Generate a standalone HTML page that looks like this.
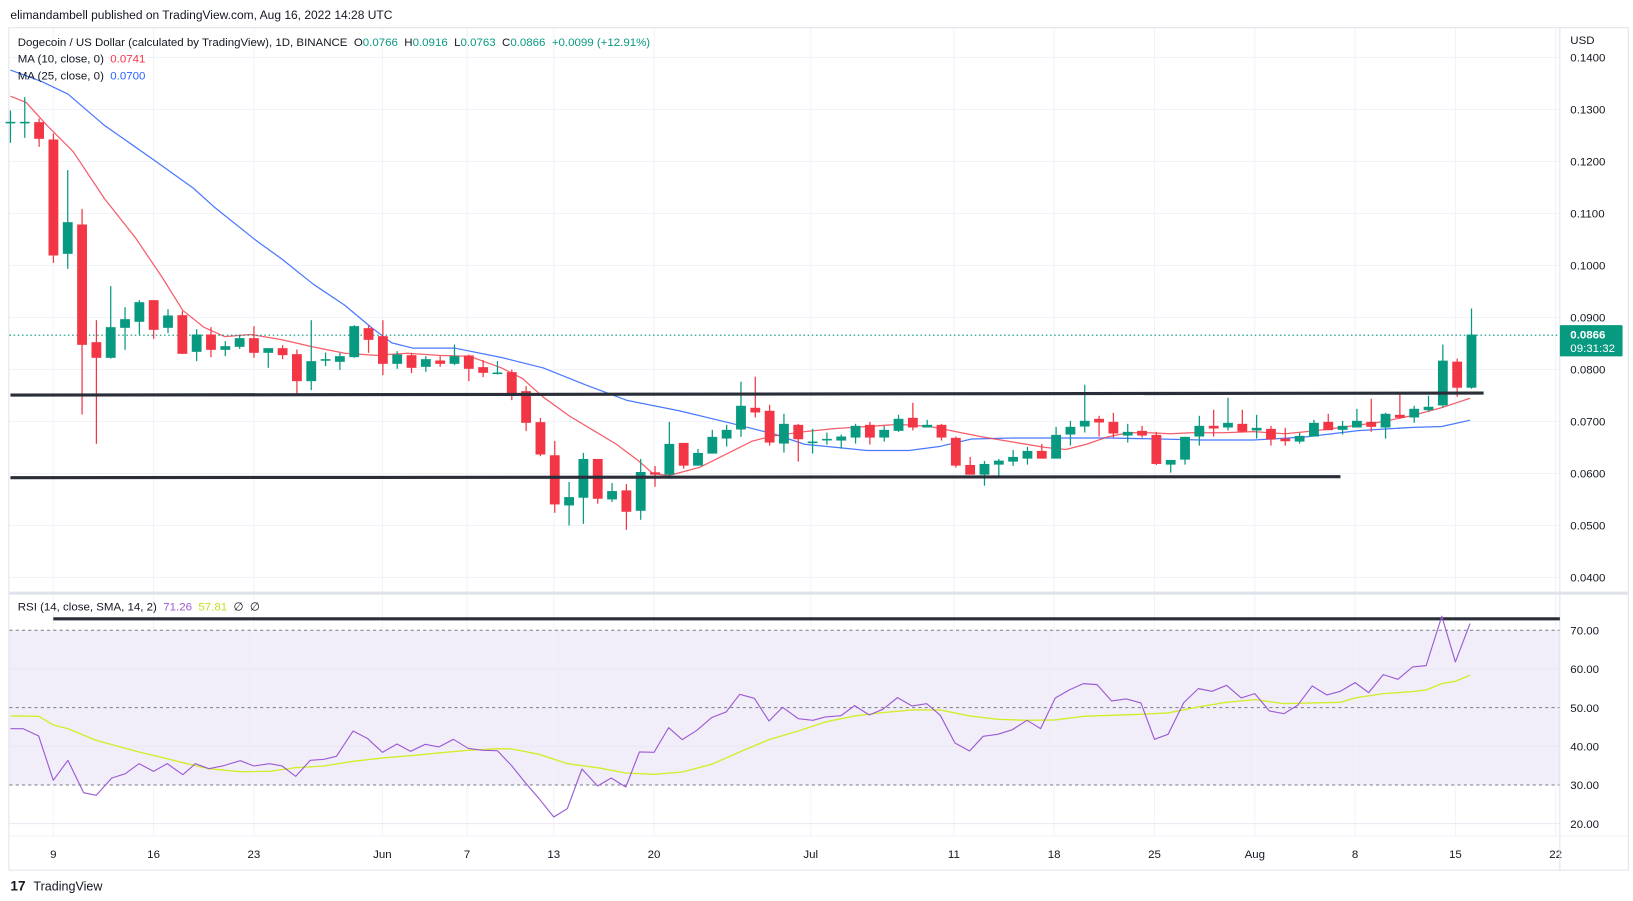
<!DOCTYPE html>
<html><head><meta charset="utf-8"><style>
html,body{margin:0;padding:0;background:#fff;}
svg{display:block;font-family:"Liberation Sans",sans-serif;}
</style></head><body>
<svg id="s" width="1633" height="901" viewBox="0 0 1563 862" preserveAspectRatio="none" xmlns="http://www.w3.org/2000/svg"></svg>
<script>
var S=document.getElementById('s'),out=[];
function py(p){return 55+(0.14-p)*4975;}
function ry(r){return 788-(r-20)*3.7;}
function cx(i){return 10+i*13.71;}
// frame
out.push('<rect x="8.5" y="26.5" width="1550" height="806" fill="#fff" stroke="#e0e3eb"/>');
// RSI band
out.push('<rect x="9" y="'+ry(70)+'" width="1484" height="'+(ry(30)-ry(70))+'" fill="#7e57c2" fill-opacity="0.1"/>');
// vertical grid
var dates=[[51,'9'],[147,'16'],[243,'23'],[366,'Jun'],[447,'7'],[530,'13'],[626,'20'],[776,'Jul'],[913,'11'],[1009,'18'],[1105,'25'],[1201,'Aug'],[1297,'8'],[1393,'15'],[1489,'22']];
dates.forEach(function(d){out.push('<line x1="'+d[0]+'" y1="27" x2="'+d[0]+'" y2="800" stroke="#f0f3fa"/>');
out.push('<text x="'+d[0]+'" y="821" font-size="11" fill="#131722" text-anchor="middle">'+d[1]+'</text>');});
// price grid
for(var k=4;k<=14;k++){var p=k/100,y=py(p);out.push('<line x1="9" y1="'+y+'" x2="1493" y2="'+y+'" stroke="#f0f3fa"/>');
out.push('<text x="1503" y="'+(y+4)+'" font-size="11" fill="#131722">'+p.toFixed(4)+'</text>');}
[60,40,20].forEach(function(r){out.push('<line x1="9" y1="'+ry(r)+'" x2="1493" y2="'+ry(r)+'" stroke="#ebe7f3"/>');});
[70,50,30].forEach(function(r){out.push('<line x1="9" y1="'+ry(r)+'" x2="1493" y2="'+ry(r)+'" stroke="#787b86" stroke-dasharray="3,3"/>');});
[70,60,50,40,30,20].forEach(function(r){out.push('<text x="1503" y="'+(ry(r)+4)+'" font-size="11" fill="#131722">'+r.toFixed(2)+'</text>');});
// separators
out.push('<line x1="1493" y1="27" x2="1493" y2="832" stroke="#e0e3eb"/>');
out.push('<rect x="9" y="566" width="1549" height="3" fill="#e0e3eb"/>');
out.push('<line x1="9" y1="800" x2="1558" y2="800" stroke="#f0f3fa"/>');
// candle data
function f4(z){return 0.13-(z-85)/15600;}
function f5(z){return 0.09-(z-48)/15550;}
var A=[[122,122,88,185],[122,122,48,170],[123,173,112,197],[175,523,157,545],[518,423,267,563],[430,791,383,1000],[783,830,717,1088],[830,738,615,832],[740,714,678,806],[722,663,657,760],[657,746,657,773],[740,703,684,756],[702,818,690,818],[812,760,744,840],[760,806,738,828],[806,795,780,825],[797,771,760,803],[771,815,735,830],[815,801,801,860],[801,822,792,834],[819,900,805,940],[900,840,717,927],[838,834,814,855],[842,825,815,866],[828,735,732,830],[741,776,733,815],[765,848,717,882],[848,820,810,863],[822,860,815,876],[857,834,825,872],[838,848,825,857],[848,825,790,852],[823,863,820,900],[858,875,837,888],[877,874,840,880],[873,938,865,957],[930,1025,915,1050],[1023,1120,1010,1125]];
var B=[[460,607,417,632],[610,585,540,670],[587,471,453,665],[471,590,471,605],[592,567,543,600],[565,629,546,683],[626,510,471,653],[511,518,492,554],[518,426,360,530],[423,491,423,500],[491,453,441,491],[455,405,384,455],[410,384,369,434],[383,312,240,405],[318,332,225,347],[327,422,309,431],[425,366,336,452],[369,412,366,479],[421,419,381,455],[415,411,392,428],[416,404,398,440],[407,372,366,425],[369,407,360,428],[407,384,372,419],[387,351,339,390],[348,377,303,386],[377,369,354,377],[369,407,366,416],[408,491,404,497],[489,518,465,518],[518,486,477,551],[488,476,471,524],[479,465,444,492],[470,447,435,488],[447,470,426,470],[470,399,375,470]];
var C=[[398,375,357,431],[374,357,249,392],[351,362,342,404],[360,395,333,407],[401,390,366,422],[387,401,372,407],[399,486,390,489],[488,474,474,512],[473,405,405,488],[404,372,342,431],[372,380,324,404],[377,363,288,386],[366,389,324,392],[386,378,339,410],[381,413,372,431],[410,418,378,431],[419,402,393,425],[404,363,354,404],[360,385,336,385],[384,372,357,398],[377,357,321,377],[360,375,291,390],[377,336,333,410],[339,348,270,351],[347,321,312,363],[325,315,282,330],[311,177,129,317],[180,258,171,285],[258,99,21,261]];
var D=[];A.forEach(function(c){D.push(c.map(f4));});B.concat(C).forEach(function(c){D.push(c.map(f5));});
// lines behind
function pl(pts,col,w,op){return '<polyline fill="none" stroke="'+col+'" stroke-width="'+w+'" stroke-opacity="'+(op||1)+'" stroke-linejoin="round" points="'+pts.map(function(q){return q[0]+','+q[1];}).join(' ')+'"/>';}
var ma25=[[10,67],[40,78],[65,90],[100,120],[150,155],[185,180],[205,198],[245,230],[270,248],[300,272],[330,292],[355,313],[375,328],[395,333],[435,333],[480,342],[520,352],[560,368],[600,383],[650,393],[700,405],[740,415],[770,425],[800,428],[830,431],[870,431],[900,427],[930,420],[970,419],[1010,419],[1060,419],[1110,420],[1150,421],[1200,421],[1250,418],[1300,412],[1350,409],[1380,408],[1407,402]];
var ma10=[[10,92],[25,98],[45,120],[70,145],[100,190],[130,228],[155,265],[175,297],[195,313],[215,322],[240,320],[270,325],[300,332],[330,338],[360,340],[390,338],[420,340],[450,341],[480,352],[500,362],[520,380],[545,398],[565,410],[590,425],[610,440],[625,453],[640,455],[670,447],[700,432],[720,422],[740,417],[770,413],[800,410],[830,408],[860,406],[890,408],[910,412],[940,418],[970,423],[1000,428],[1020,430],[1040,425],[1060,418],[1080,414],[1100,414],[1120,415],[1140,414],[1170,414],[1200,413],[1230,415],[1260,412],[1290,408],[1320,404],[1350,398],[1380,390],[1395,385],[1407,381]];
out.push(pl(ma25,'#2962ff',1.2,0.85));
out.push(pl(ma10,'#f23645',1.2,0.8));
// dotted last price
out.push('<line x1="9" y1="'+py(0.0866)+'" x2="1493" y2="'+py(0.0866)+'" stroke="#089981" stroke-dasharray="1.5,2.5"/>');
// candles
D.forEach(function(c,i){var o=c[0],cl=c[1],h=c[2],l=c[3],x=cx(i),col=cl>=o?'#089981':'#f23645';
var hi=Math.max(h,o,cl),lo=Math.min(l,o,cl);
out.push('<line x1="'+x+'" y1="'+py(hi)+'" x2="'+x+'" y2="'+py(lo)+'" stroke="'+col+'" stroke-width="1.2"/>');
var t=py(Math.max(o,cl)),b=py(Math.min(o,cl));if(b-t<1.5){b=t+1.5;}
out.push('<rect x="'+(x-4.7)+'" y="'+t+'" width="9.4" height="'+(b-t)+'" fill="'+col+'"/>');});
// horizontal S/R lines
out.push('<line x1="10" y1="378" x2="1420" y2="376" stroke="#2a2e39" stroke-width="3"/>');
out.push('<line x1="10" y1="457" x2="1283" y2="456" stroke="#2a2e39" stroke-width="3"/>');
out.push('<line x1="51" y1="592" x2="1493" y2="592" stroke="#2a2e39" stroke-width="3"/>');
// RSI
function zr(a){return a.map(function(q){return [q[0],(560+q[1]/3)/1.0448];});}
var rsi=[[10,505],[22,505],[37,527],[51,660],[65,600],[80,697],[92,705],[107,653],[120,640],[133,610],[147,633],[160,610],[175,643],[187,610],[200,625],[213,617],[230,601],[243,617],[258,610],[270,617],[283,648],[297,600],[310,597],[322,588],[338,512],[352,535],[366,576],[380,551],[393,573],[407,552],[420,560],[434,537],[448,564],[462,570],[476,571],[490,617],[503,668],[516,715],[530,770],[543,745],[557,626],[572,677],[585,653],[599,680],[612,575],[626,576],[640,502],[653,538],[667,510],[681,472],[695,455],[708,402],[722,414],[736,482],[749,441],[764,475],[778,480],[790,470],[805,466],[818,436],[832,464],[845,447],[859,412],[873,437],[887,430],[900,465],[914,548],[928,572],[941,528],[955,522],[969,508],[983,480],[996,505],[1010,413],[1024,388],[1037,370],[1050,373],[1064,422],[1078,416],[1092,428],[1105,537],[1118,522],[1133,427],[1147,385],[1160,393],[1174,375],[1188,413],[1201,400],[1215,452],[1229,460],[1242,435],[1256,377],[1270,404],[1283,393],[1297,367],[1310,397],[1324,343],[1338,357],[1352,320],[1365,316],[1380,168],[1393,305],[1407,190]];
var sig=[[10,467],[37,468],[51,494],[65,505],[92,540],[107,553],[133,575],[160,595],[175,607],[200,625],[230,634],[258,633],[283,622],[310,617],[338,603],[366,593],[393,586],[420,578],[448,570],[476,565],[490,566],[516,582],[543,610],[572,622],[599,638],[626,642],[653,635],[681,612],[708,575],[736,538],[764,512],[790,485],[818,467],[845,457],[873,449],[900,449],[928,467],[955,477],[983,480],[1010,479],[1037,468],[1064,465],[1092,462],[1118,458],[1147,440],[1174,426],[1201,418],[1229,430],[1256,428],[1283,426],[1297,413],[1324,400],[1352,394],[1365,389],[1380,370],[1393,363],[1407,345]];
out.push(pl(zr(sig),'#d4ec2a',1.3));
out.push(pl(zr(rsi),'#9c5cd4',1.1));
// texts
out.push('<text x="10" y="18" font-size="11.5" fill="#131722">elimandambell published on TradingView.com, Aug 16, 2022 14:28 UTC</text>');
out.push('<text x="17" y="44" font-size="11" fill="#131722">Dogecoin / US Dollar (calculated by TradingView), 1D, BINANCE&#160; O<tspan fill="#089981">0.0766</tspan>&#160; H<tspan fill="#089981">0.0916</tspan>&#160; L<tspan fill="#089981">0.0763</tspan>&#160; C<tspan fill="#089981">0.0866&#160; +0.0099 (+12.91%)</tspan></text>');
out.push('<text x="17" y="60" font-size="11" fill="#131722">MA (10, close, 0)&#160; <tspan fill="#f23645">0.0741</tspan></text>');
out.push('<text x="17" y="76" font-size="11" fill="#131722">MA (25, close, 0)&#160; <tspan fill="#2962ff">0.0700</tspan></text>');
out.push('<text x="17" y="584" font-size="11" fill="#131722">RSI (14, close, SMA, 14, 2)&#160; <tspan fill="#9c5cd4">71.26</tspan>&#160; <tspan fill="#c8dc20">57.81</tspan>&#160; ∅&#160; ∅</text>');
out.push('<text x="1503" y="42" font-size="11" fill="#131722">USD</text>');
out.push('<rect x="1493" y="311" width="60" height="30" fill="#089981" rx="1"/>');
out.push('<text x="1503" y="324" font-size="11" font-weight="bold" fill="#fff">0.0866</text>');
out.push('<text x="1503" y="337" font-size="11" fill="#fff">09:31:32</text>');
out.push('<text x="10" y="852" font-size="13" font-weight="bold" fill="#131722">17</text>');
out.push('<text x="32" y="852" font-size="12" fill="#131722">TradingView</text>');
S.innerHTML=out.join('');
</script>
</body></html>
